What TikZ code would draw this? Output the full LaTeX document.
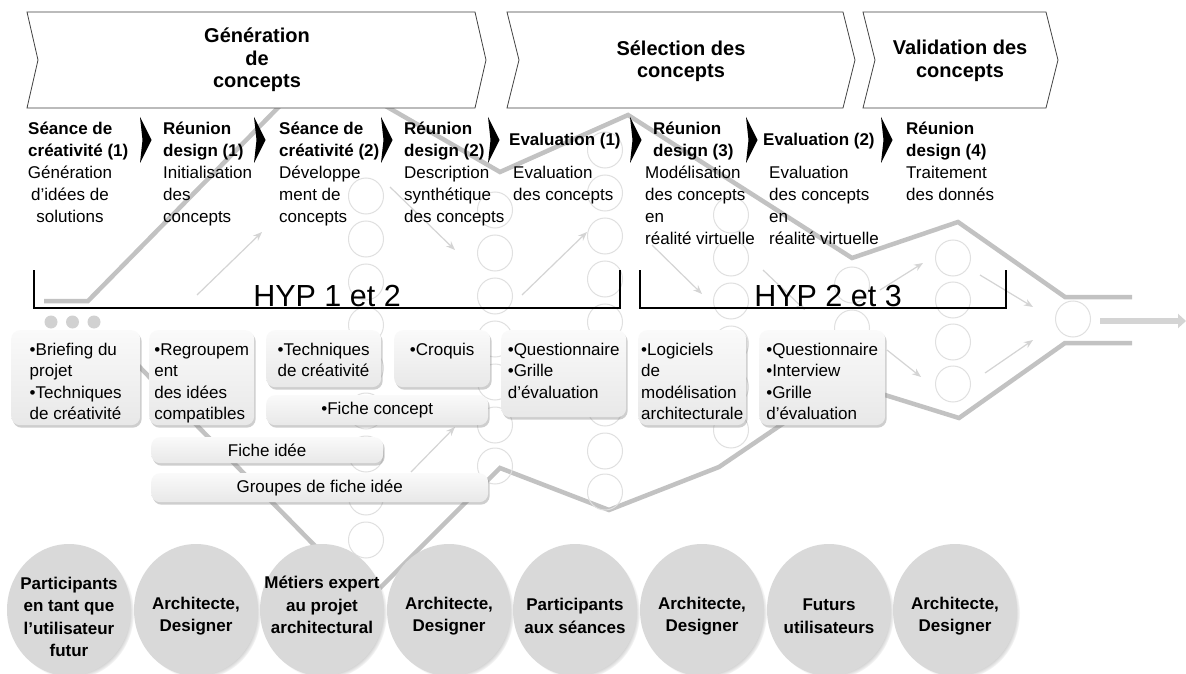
\documentclass[tikz,border=0pt]{standalone}
\usepackage{fontspec}
\setmainfont{Liberation Sans}
\usetikzlibrary{shapes.geometric,shadows,calc,arrows.meta}

% struts that fix the height of the first line of a text block
\newcommand{\fls}{\rule{0pt}{16pt}}
\newcommand{\flt}{\rule{0pt}{17pt}}

\begin{document}
\begin{tikzpicture}[x=1pt,y=-1pt,
  funnel/.style={draw=black!24, line width=4.5pt, line join=miter},
  ring/.style={draw=black!12, line width=1pt},
  flow/.style={draw=black!17, line width=1.2pt, -{Stealth[length=9pt,width=7pt]}},
  outflow/.style={draw=black!17, line width=6pt, -{Triangle[length=8pt,width=14pt]}},
  phase/.style={draw=black!75, line width=0.8pt, fill=white},
  phasetext/.style={font=\fontsize{20}{22.5}\selectfont\bfseries, align=center, inner sep=0pt},
  stagemark/.style={fill=black},
  stagelabel/.style={font=\fontsize{17}{22}\selectfont\bfseries, align=left, inner sep=0pt, anchor=north west},
  stagedesc/.style={font=\fontsize{17}{22}\selectfont, align=left, inner sep=0pt, anchor=north west},
  bracket/.style={draw=black, line width=1.3pt},
  hyp/.style={font=\fontsize{30.5}{30.5}\selectfont, inner sep=0pt, anchor=base},
  dot/.style={fill=black!18},
  toolbox/.style={rounded corners=9pt, top color=black!2, bottom color=black!9, draw=none,
    drop shadow={shadow xshift=1.5pt, shadow yshift=-2.5pt, opacity=0.35, fill=black!55},
    inner sep=0pt, anchor=north west, font=\fontsize{17}{21.5}\selectfont},
  tooltext/.style={font=\fontsize{17}{21.5}\selectfont, align=left, inner sep=0pt, anchor=north},
  role/.style={ellipse, fill=black!15, minimum width=124pt, minimum height=132pt, inner sep=0pt,
    circular drop shadow={shadow xshift=3pt, shadow yshift=-3pt, shadow scale=1.0, opacity=0.55, fill=black!60}},
  roletext/.style={font=\fontsize{17}{22.5}\selectfont\bfseries, align=center, inner sep=0pt},
]
\useasboundingbox (0,0) rectangle (1186,674);
\fill[white] (0,0) rectangle (1186,674);

% ---------- background funnel ----------
\draw[funnel] (44,301) -- (88,301) -- (318,67) -- (500,172) -- (628,115) -- (852,258)
  -- (958,222) -- (1065,297) -- (1132,297);
\draw[funnel] (120,347) -- (368,600) -- (500,468) -- (609,510) -- (719,467) -- (800,412)
  -- (885,395) -- (959,418) -- (1065,343) -- (1132,343);

\foreach \y in {196,239,282,325,368,411,454,497,540}
  \draw[ring] (366,\y) ellipse [x radius=17.5, y radius=18];
\foreach \y in {210,253,296,339,382,425,466}
  \draw[ring] (495,\y) ellipse [x radius=17.5, y radius=18];
\foreach \y in {150,193,236,279,322,365,408,451,492}
  \draw[ring] (605,\y) ellipse [x radius=17.5, y radius=18];
\foreach \y in {215,258,301,344,387,430}
  \draw[ring] (731,\y) ellipse [x radius=17.5, y radius=18];
\foreach \y in {285,328,371}
  \draw[ring] (852,\y) ellipse [x radius=17.5, y radius=18];
\foreach \y in {258,300,342,384}
  \draw[ring] (953,\y) ellipse [x radius=17.5, y radius=18];
\draw[ring] (1073,319) ellipse [x radius=17.5, y radius=18];

\coordinate (f1a) at (197,295);  \coordinate (f1b) at (262,232);
\coordinate (f2a) at (390,187);  \coordinate (f2b) at (455,250);
\coordinate (f3a) at (522,295);  \coordinate (f3b) at (587,232);
\coordinate (f4a) at (411,472);  \coordinate (f4b) at (455,427);
\coordinate (f5a) at (652,245);  \coordinate (f5b) at (702,294);
\coordinate (f6a) at (763,270);  \coordinate (f6b) at (805,310);
\coordinate (f7a) at (880,290);  \coordinate (f7b) at (923,263);
\coordinate (f8a) at (980,275);  \coordinate (f8b) at (1033,307);
\coordinate (f9a) at (985,373);  \coordinate (f9b) at (1033,340);
\coordinate (f10a) at (887,350); \coordinate (f10b) at (921,377);
\foreach \i in {1,...,10} \draw[flow] (f\i a) -- (f\i b);

\coordinate (outa) at (1100,321); \coordinate (outb) at (1186,321);
\draw[outflow] (outa) -- (outb);

% ---------- phase banner ----------
\draw[phase] (27,12) -- (475,12) -- (486,60) -- (475,108) -- (27,108) -- (38,60) -- cycle;
\draw[phase] (507,12) -- (843,12) -- (855,60) -- (843,108) -- (507,108) -- (519,60) -- cycle;
\draw[phase] (863,12) -- (1046,12) -- (1058,60) -- (1046,108) -- (863,108) -- (875,60) -- cycle;
\node[phasetext] (ph1) at (257,60) {Génération\\de\\concepts};
\node[phasetext] (ph2) at (681,61) {Sélection des\\concepts};
\node[phasetext] (ph3) at (960,61) {Validation des\\concepts};

% ---------- stages ----------
\foreach \x in {140,254,381,488,630,746,881}
  \fill[stagemark] (\x,117) -- (\x+11.5,140) -- (\x,163) -- (\x+2.5,140) -- cycle;

\node[stagelabel] (s1) at (28,118)  {\fls Séance de\\créativité (1)};
\node[stagelabel] (s2) at (163,118) {\fls Réunion\\design (1)};
\node[stagelabel] (s3) at (279,118) {\fls Séance de\\créativité (2)};
\node[stagelabel] (s4) at (404,118) {\fls Réunion\\design (2)};
\node[stagelabel] (s5) at (509,129) {\fls Evaluation (1)};
\node[stagelabel] (s6) at (653,118) {\fls Réunion\\design (3)};
\node[stagelabel] (s7) at (763,129) {\fls Evaluation (2)};
\node[stagelabel] (s8) at (906,118) {\fls Réunion\\design (4)};

\node[stagedesc, anchor=north, align=center] (d1) at (70,162) {\fls Génération\\d'idées de\\solutions};
\node[stagedesc] (d2) at (163,162) {\fls Initialisation\\des\\concepts};
\node[stagedesc] (d3) at (279,162) {\fls Développe\\ment de\\concepts};
\node[stagedesc] (d4) at (404,162) {\fls Description\\synthétique\\des concepts};
\node[stagedesc] (d5) at (513,162) {\fls Evaluation\\des concepts};
\node[stagedesc] (d6) at (645,162) {\fls Modélisation\\des concepts\\en\\réalité virtuelle};
\node[stagedesc] (d7) at (769,162) {\fls Evaluation\\des concepts\\en\\réalité virtuelle};
\node[stagedesc] (d8) at (906,162) {\fls Traitement\\des donnés};

% ---------- hypothesis brackets ----------
\draw[bracket] (34,270) -- (34,308) -- (620,308) -- (620,270);
\draw[bracket] (640,270) -- (640,308) -- (1006,308) -- (1006,270);
\node[hyp] (h1) at (327,306) {HYP 1 et 2};
\node[hyp] (h2) at (828,306) {HYP 2 et 3};

\foreach \x in {51,72.5,94} \fill[dot] (\x,322) circle [radius=6.5];

% ---------- tools ----------
\node[toolbox, minimum width=129pt, minimum height=95pt] (t1) at (11,330) {};
\node[toolbox, minimum width=105pt, minimum height=95pt] (t2) at (149,330) {};
\node[toolbox, minimum width=115pt, minimum height=57pt] (t3) at (266,330) {};
\node[toolbox, minimum width=96pt, minimum height=57pt] (t4) at (394,330) {};
\node[toolbox, minimum width=125pt, minimum height=87pt] (t5) at (501,330) {};
\node[toolbox, minimum width=108pt, minimum height=95pt] (t6) at (638,330) {};
\node[toolbox, minimum width=126pt, minimum height=95pt] (t7) at (759,330) {};
\node[toolbox, minimum width=222pt, minimum height=30pt] (t8) at (266,395) {•Fiche concept};
\node[toolbox, minimum width=232pt, minimum height=26pt] (t9) at (151,437) {Fiche idée};
\node[toolbox, minimum width=337pt, minimum height=29pt] (t10) at (151,473) {Groupes de fiche idée};

\node[tooltext] (t1x) at ($(t1.north)+(0,8)$) {\flt•Briefing du\\projet\\•Techniques\\de créativité};
\node[tooltext] (t2x) at ($(t2.north)+(0,8)$) {\flt•Regroupem\\ent\\des idées\\compatibles};
\node[tooltext] (t3x) at ($(t3.north)+(0,8)$) {\flt•Techniques\\de créativité};
\node[tooltext] (t4x) at ($(t4.north)+(0,8)$) {\flt•Croquis};
\node[tooltext] (t5x) at ($(t5.north)+(0,8)$) {\flt•Questionnaire\\•Grille\\d'évaluation};
\node[tooltext] (t6x) at ($(t6.north)+(0,8)$) {\flt•Logiciels\\de\\modélisation\\architecturale};
\node[tooltext] (t7x) at ($(t7.north)+(0,8)$) {\flt•Questionnaire\\•Interview\\•Grille\\d'évaluation};

% ---------- actors ----------
\node[role] (r1) at (69,610) {};
\node[role] (r2) at (196,610) {};
\node[role] (r3) at (322,610) {};
\node[role] (r4) at (449,610) {};
\node[role] (r5) at (575,610) {};
\node[role] (r6) at (702,610) {};
\node[role] (r7) at (829,610) {};
\node[role] (r8) at (955,610) {};
\node[roletext] (r1x) at ($(r1.center)+(0,7)$) {Participants\\en tant que\\l'utilisateur\\futur};
\node[roletext] (r2x) at ($(r2.center)+(0,6)$) {Architecte,\\Designer};
\node[roletext] (r3x) at ($(r3.center)+(0,-5)$) {Métiers expert\\au projet\\architectural};
\node[roletext] (r4x) at ($(r4.center)+(0,6)$) {Architecte,\\Designer};
\node[roletext] (r5x) at ($(r5.center)+(0,6)$) {Participants\\aux séances};
\node[roletext] (r6x) at ($(r6.center)+(0,6)$) {Architecte,\\Designer};
\node[roletext] (r7x) at ($(r7.center)+(0,6)$) {Futurs\\utilisateurs};
\node[roletext] (r8x) at ($(r8.center)+(0,6)$) {Architecte,\\Designer};
\end{tikzpicture}
\end{document}
